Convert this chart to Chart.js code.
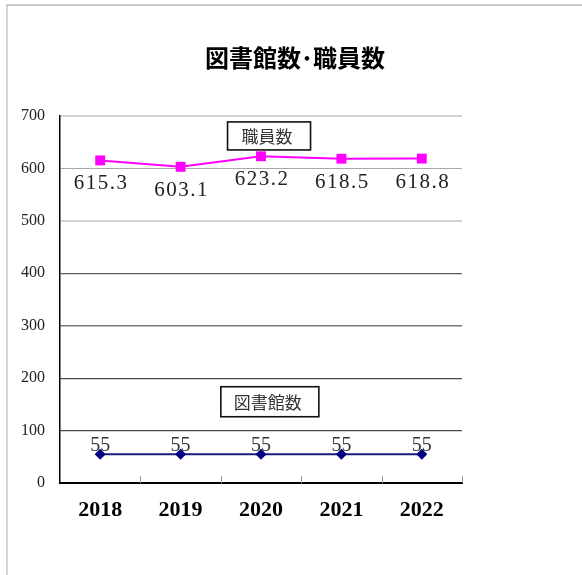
<!DOCTYPE html>
<html><head><meta charset="utf-8">
<script src="https://cdn.jsdelivr.net/npm/chart.js@4"></script>
<style>html,body{margin:0;padding:0;background:#fff;} #wrap{width:582px;height:575px;}</style>
</head><body><div id="wrap"><canvas id="c" width="582" height="575"></canvas></div>
<script>
const chartTitle = '図書館数･職員数';
const categories = ['2018', '2019', '2020', '2021', '2022'];
const staffName = '職員数';
const staffValues = [615.3, 603.1, 623.2, 618.5, 618.8];
const libraryName = '図書館数';
const libraryValues = [55, 55, 55, 55, 55];
const yTickValues = [0, 100, 200, 300, 400, 500, 600, 700];

const SERIF = '"Liberation Serif", "DejaVu Serif", serif';
const GOTHIC = '"Noto Sans CJK JP", "Noto Sans", sans-serif';

const gridStyle = {
  700: ['#d2d2d2', 2], 600: ['#a8a8a8', 1], 500: ['#d2d2d2', 2],
  400: ['#5a5a5a', 1.3], 300: ['#7a7a7a', 1.5], 200: ['#4a4a4a', 1.2],
  100: ['#4a4a4a', 1.2], 0: ['rgba(0,0,0,0)', 0]
};

const decor = {
  id: 'decor',
  beforeDraw(chart) {
    const c = chart.ctx;
    c.save();
    c.fillStyle = '#fff';
    c.fillRect(0, 0, chart.width, chart.height);
    c.fillStyle = '#d6d6d6';
    c.fillRect(6, 5, 2, chart.height - 5);
    c.fillStyle = '#a8a8a8';
    c.fillRect(6, 4.5, chart.width - 6, 1.2);
    c.fillStyle = '#000';
    c.font = 'bold 24px ' + GOTHIC;
    c.textAlign = 'center';
    c.textBaseline = 'middle';
    c.fillText(chartTitle, 295, 58);
    c.restore();
  },
  afterDatasetsDraw(chart, args, opts) {
    const c = chart.ctx;
    const area = chart.chartArea;
    const xs = chart.scales.x, ys = chart.scales.y;
    c.save();
    // inner tick marks on x axis
    c.strokeStyle = '#9a9a9a';
    c.lineWidth = 1;
    const n = categories.length;
    for (let i = 1; i <= n; i++) {
      const x = Math.round(area.left + (area.right - area.left) * i / n) + 0.5;
      c.beginPath(); c.moveTo(x, area.bottom - 7); c.lineTo(x, area.bottom); c.stroke();
    }
    // data labels
    chart.data.datasets.forEach((ds, di) => {
      const meta = chart.getDatasetMeta(di);
      const lab = opts.labels[di];
      c.font = lab.font;
      c.fillStyle = lab.color;
      c.textAlign = 'center';
      c.textBaseline = 'alphabetic';
      try { c.letterSpacing = lab.spacing; } catch (e) {}
      meta.data.forEach((pt, i) => {
        const v = ds.data[i];
        const txt = lab.decimals ? v.toFixed(lab.decimals) : String(v);
        c.fillText(txt, pt.x + lab.dx, pt.y + lab.dy);
      });
      try { c.letterSpacing = '0px'; } catch (e) {}
    });
    // annotation boxes
    opts.boxes.forEach(b => {
      const cx = xs.getPixelForValue(b.xVal);
      const cy = ys.getPixelForValue(b.yVal);
      c.fillStyle = '#fff';
      c.fillRect(cx - b.w / 2, cy - b.h / 2, b.w, b.h);
      c.strokeStyle = '#111';
      c.lineWidth = 1.6;
      c.strokeRect(cx - b.w / 2, cy - b.h / 2, b.w, b.h);
      c.fillStyle = '#333';
      c.font = '17px ' + GOTHIC;
      c.textAlign = 'center';
      c.textBaseline = 'middle';
      c.fillText(b.text, cx - 2, cy + 1);
    });
    c.restore();
  }
};

new Chart(document.getElementById('c'), {
  type: 'line',
  data: {
    labels: categories,
    datasets: [
      {
        label: staffName, data: staffValues,
        borderColor: '#ff00ff', backgroundColor: '#ff00ff', borderWidth: 2,
        pointStyle: 'rect', pointRadius: 7, pointBorderWidth: 0, pointBackgroundColor: '#ff00ff',
        tension: 0
      },
      {
        label: libraryName, data: libraryValues,
        borderColor: '#1a1a80', backgroundColor: '#000080', borderWidth: 2,
        pointStyle: 'rectRot', pointRadius: 5.5, pointBorderWidth: 0, pointBackgroundColor: '#000080',
        tension: 0
      }
    ]
  },
  options: {
    responsive: false,
    animation: false,
    events: [],
    layout: { padding: { top: 116, right: 120, left: 0, bottom: 0 } },
    plugins: {
      legend: { display: false },
      title: { display: false },
      tooltip: { enabled: false },
      decor: {
        labels: [
          { font: '21px ' + SERIF, color: '#222', dx: 1, dy: 29, decimals: 1, spacing: '1.5px' },
          { font: '20px ' + SERIF, color: '#333', dx: 0, dy: -3, decimals: 0, spacing: '0px' }
        ],
        boxes: [
          { text: staffName, xVal: 2.1, yVal: 662, w: 83, h: 28 },
          { text: libraryName, xVal: 2.11, yVal: 155, w: 98, h: 30 }
        ]
      }
    },
    scales: {
      x: {
        offset: true,
        grid: { display: false, drawTicks: false },
        border: { display: true, color: '#000', width: 2 },
        ticks: { font: { family: SERIF, size: 22, weight: 'bold' }, color: '#000', padding: 14 },
        afterFit(s) { s.height = 92; }
      },
      y: {
        min: 0, max: 700,
        afterBuildTicks(s) { s.ticks = yTickValues.map(v => ({ value: v })); },
        grid: {
          drawTicks: false,
          color: ctx => (gridStyle[ctx.tick.value] || ['#888', 1])[0],
          lineWidth: ctx => (gridStyle[ctx.tick.value] || ['#888', 1])[1]
        },
        border: { display: true, color: '#000', width: 1.5 },
        ticks: { font: { family: SERIF, size: 16 }, color: '#222', padding: 15 },
        afterFit(s) { s.width = 60; }
      }
    }
  },
  plugins: [decor]
});
</script>
</body></html>
